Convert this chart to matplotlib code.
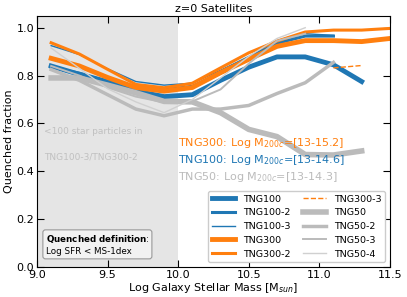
import matplotlib
matplotlib.use("Agg")
import matplotlib.pyplot as plt
import numpy as np

plt.rcParams['font.family'] = ['DejaVu Sans']

# bin centres (log stellar mass)
mass = [9.1, 9.3, 9.5, 9.7, 9.9, 10.1, 10.3, 10.5, 10.7, 10.9, 11.1, 11.3, 11.5]

tng100   = [0.840, 0.805, 0.770, 0.735, 0.712, 0.720, 0.780, 0.835, 0.878, 0.878, 0.845, 0.775]
tng100_2 = [0.835, 0.810, 0.778, 0.752, 0.740, 0.755, 0.810, 0.872, 0.935, 0.965, 0.965]
tng100_3 = [0.925, 0.888, 0.828, 0.775, 0.760, 0.768, 0.822, 0.880, 0.940, 0.975, 0.968]
tng300   = [0.872, 0.840, 0.792, 0.750, 0.735, 0.750, 0.812, 0.868, 0.922, 0.946, 0.946, 0.942, 0.955]
tng300_2 = [0.937, 0.890, 0.826, 0.763, 0.749, 0.768, 0.832, 0.895, 0.944, 0.982, 0.990, 0.990, 0.997]
mass_300_3 = [11.1, 11.3]
tng300_3 = [0.832, 0.842]
tng50    = [0.790, 0.790, 0.760, 0.728, 0.692, 0.690, 0.645, 0.575, 0.545, 0.470, 0.468, 0.485]
tng50_2  = [0.825, 0.780, 0.720, 0.660, 0.632, 0.660, 0.660, 0.675, 0.725, 0.770, 0.855]
tng50_3  = [0.840, 0.800, 0.750, 0.712, 0.688, 0.692, 0.742, 0.850, 0.945, 0.975]
tng50_4  = [0.915, 0.830, 0.745, 0.690, 0.645, 0.700, 0.790, 0.880, 0.955, 1.000]

blue = '#1f77b4'
orange = '#ff7f0e'
grey = '#bbbbbb'
lgrey = '#d0d0d0'

fig = plt.figure(figsize=(4.07, 2.97), dpi=100)
ax = fig.add_axes([0.091, 0.101, 0.867, 0.846])

ax.axvspan(9.0, 10.0, color='#e5e5e5', zorder=0, lw=0)

def m(n):
    return mass[:n]

ax.plot(m(len(tng100)), tng100, color=blue, lw=3.5, label='TNG100')
ax.plot(m(len(tng100_2)), tng100_2, color=blue, lw=2.2, label='TNG100-2')
ax.plot(m(len(tng100_3)), tng100_3, color=blue, lw=1.0, label='TNG100-3')
ax.plot(m(len(tng300)), tng300, color=orange, lw=3.5, label='TNG300')
ax.plot(m(len(tng300_2)), tng300_2, color=orange, lw=2.2, label='TNG300-2')
ax.plot(mass_300_3, tng300_3, color=orange, lw=1.0, ls='--', label='TNG300-3')
ax.plot(m(len(tng50)), tng50, color=grey, lw=4.0, label='TNG50')
ax.plot(m(len(tng50_2)), tng50_2, color=grey, lw=2.5, label='TNG50-2')
ax.plot(m(len(tng50_3)), tng50_3, color=grey, lw=1.4, label='TNG50-3')
ax.plot(m(len(tng50_4)), tng50_4, color=lgrey, lw=1.0, label='TNG50-4')

ax.set_xlim(9.0, 11.5)
ax.set_ylim(0.0, 1.05)
ax.set_xticks([9.0, 9.5, 10.0, 10.5, 11.0, 11.5])
ax.set_yticks([0.0, 0.2, 0.4, 0.6, 0.8, 1.0])
ax.tick_params(direction='in', top=True, right=True, length=5, labelsize=8, pad=2)

ax.set_title('z=0 Satellites', fontsize=8, pad=3)
ax.set_xlabel(r'Log Galaxy Stellar Mass [M$_{sun}$]', fontsize=8, labelpad=1)
ax.set_ylabel('Quenched fraction', fontsize=8, labelpad=2)

ax.text(9.05, 0.565, '<100 star particles in', color='#c0c0c0', fontsize=6.5, va='center')
ax.text(9.05, 0.461, 'TNG100-3/TNG300-2', color='#c0c0c0', fontsize=6.5, va='center')

ax.text(10.0, 0.52, r'TNG300: Log M$_{200c}$=[13-15.2]', color=orange, fontsize=8, va='center')
ax.text(10.0, 0.448, r'TNG100: Log M$_{200c}$=[13-14.6]', color=blue, fontsize=8, va='center')
ax.text(10.0, 0.378, r'TNG50: Log M$_{200c}$=[13-14.3]', color=grey, fontsize=8, va='center')

ax.text(9.06, 0.045, r'$\bf{Quenched\ definition}$:' + '\nLog SFR < MS-1dex', fontsize=6.3,
        va='bottom', ha='left', linespacing=1.25,
        bbox=dict(boxstyle='round,pad=0.3', facecolor='#f2f2f2', edgecolor='#999999', lw=0.8))

ax.legend(ncol=2, loc='lower right', fontsize=6.8, labelspacing=0.5, columnspacing=1.3,
          handlelength=2.5, borderpad=0.4, framealpha=1.0)

fig.savefig('out.png', dpi=100)
